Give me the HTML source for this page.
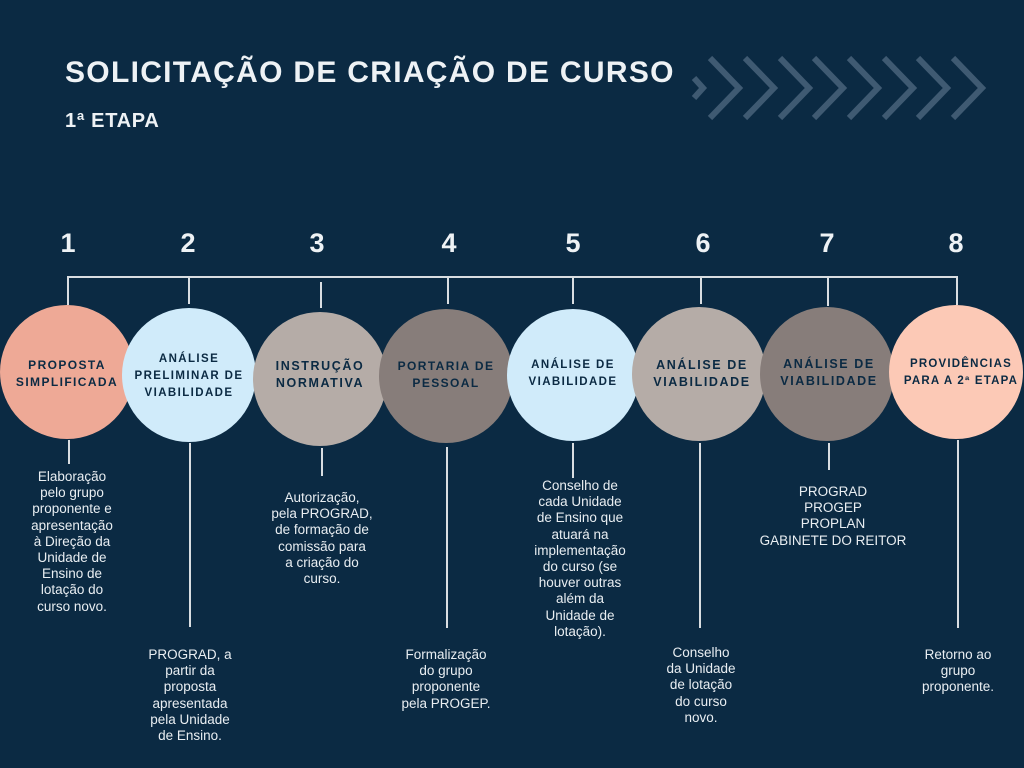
<!DOCTYPE html>
<html><head><meta charset="utf-8"><style>
body{margin:0;width:1024px;height:768px;background:#0b2a43;position:relative;overflow:hidden;font-family:"Liberation Sans",sans-serif;}
.t{position:absolute;color:#eef2f5;font-weight:bold;}
.n{position:absolute;color:#eef2f5;font-weight:bold;font-size:27px;width:40px;text-align:center;top:228px;}
.c{position:absolute;color:#0b2a43;font-weight:bold;font-size:11.5px;letter-spacing:1.4px;line-height:17px;text-align:center;width:140px;}
.d{position:absolute;color:#e9eef2;font-size:13.5px;line-height:16.2px;text-align:center;width:140px;}
</style></head><body>
<svg width="1024" height="768" style="position:absolute;left:0;top:0">
<g fill="none" stroke="#3f5a72" stroke-width="6">
<polyline points="694,78 703,88 694,98"/>
<polyline points="710,58 739,88 710,118"/>
<polyline points="745,58 774,88 745,118"/>
<polyline points="780,58 809,88 780,118"/>
<polyline points="814,58 843,88 814,118"/>
<polyline points="849,58 878,88 849,118"/>
<polyline points="884,58 913,88 884,118"/>
<polyline points="918,58 947,88 918,118"/>
<polyline points="953,58 982,88 953,118"/>
</g>
<g stroke="#d9dde1" stroke-width="2" fill="none">
<line x1="67" y1="277" x2="957" y2="277"/>
<line x1="68" y1="276" x2="68" y2="305"/>
<line x1="189" y1="277" x2="189" y2="304"/>
<line x1="321" y1="282" x2="321" y2="308"/>
<line x1="448" y1="277" x2="448" y2="304"/>
<line x1="573" y1="277" x2="573" y2="304"/>
<line x1="701" y1="277" x2="701" y2="304"/>
<line x1="828" y1="277" x2="828" y2="306"/>
<line x1="957" y1="276" x2="957" y2="305"/>
<line x1="69" y1="440" x2="69" y2="464"/>
<line x1="190" y1="443" x2="190" y2="627"/>
<line x1="322" y1="448" x2="322" y2="476"/>
<line x1="447" y1="447" x2="447" y2="628"/>
<line x1="573" y1="443" x2="573" y2="478"/>
<line x1="700" y1="443" x2="700" y2="628"/>
<line x1="829" y1="443" x2="829" y2="470"/>
<line x1="958" y1="440" x2="958" y2="628"/>
</g>
<circle cx="67" cy="372" r="67" fill="#eea996"/>
<circle cx="189" cy="375" r="67" fill="#d0ebfa"/>
<circle cx="320" cy="379" r="67" fill="#b5aca7"/>
<circle cx="446" cy="376" r="67" fill="#877d7a"/>
<circle cx="573" cy="375" r="66" fill="#d0ebfa"/>
<circle cx="699" cy="374" r="67" fill="#b5aca7"/>
<circle cx="827" cy="374" r="67" fill="#877d7a"/>
<circle cx="956" cy="372" r="67" fill="#fcc9b6"/>
</svg>
<div class="t" style="left:65px;top:56px;font-size:30px;letter-spacing:1.3px">SOLICITAÇÃO DE CRIAÇÃO DE CURSO</div>
<div class="t" style="left:65px;top:110px;font-size:20px;letter-spacing:0.7px">1ª ETAPA</div>
<div class="n" style="left:48px">1</div>
<div class="n" style="left:168px">2</div>
<div class="n" style="left:297px">3</div>
<div class="n" style="left:429px">4</div>
<div class="n" style="left:553px">5</div>
<div class="n" style="left:683px">6</div>
<div class="n" style="left:807px">7</div>
<div class="n" style="left:936px">8</div>
<div class="c" style="left:-3px;top:357px;font-size:12px">PROPOSTA<br>SIMPLIFICADA</div>
<div class="c" style="left:119px;top:351px">ANÁLISE<br>PRELIMINAR DE<br>VIABILIDADE</div>
<div class="c" style="left:250px;top:358px;font-size:12.5px;letter-spacing:1.6px">INSTRUÇÃO<br>NORMATIVA</div>
<div class="c" style="left:376px;top:358px;font-size:12px">PORTARIA DE<br>PESSOAL</div>
<div class="c" style="left:503px;top:357px;font-size:11.5px">ANÁLISE DE<br>VIABILIDADE</div>
<div class="c" style="left:632px;top:357px;font-size:12.5px;letter-spacing:1.6px">ANÁLISE DE<br>VIABILIDADE</div>
<div class="c" style="left:759px;top:356px;font-size:12.5px;letter-spacing:1.6px">ANÁLISE DE<br>VIABILIDADE</div>
<div class="c" style="left:891px;top:356px;font-size:11.5px;letter-spacing:1.2px">PROVIDÊNCIAS<br>PARA A 2ª ETAPA</div>
<div class="d" style="left:2px;top:469px">Elaboração<br>pelo grupo<br>proponente e<br>apresentação<br>à Direção da<br>Unidade de<br>Ensino de<br>lotação do<br>curso novo.</div>
<div class="d" style="left:120px;top:647px">PROGRAD, a<br>partir da<br>proposta<br>apresentada<br>pela Unidade<br>de Ensino.</div>
<div class="d" style="left:252px;top:490px">Autorização,<br>pela PROGRAD,<br>de formação de<br>comissão para<br>a criação do<br>curso.</div>
<div class="d" style="left:376px;top:647px">Formalização<br>do grupo<br>proponente<br>pela PROGEP.</div>
<div class="d" style="left:510px;top:478px">Conselho de<br>cada Unidade<br>de Ensino que<br>atuará na<br>implementação<br>do curso (se<br>houver outras<br>além da<br>Unidade de<br>lotação).</div>
<div class="d" style="left:631px;top:645px">Conselho<br>da Unidade<br>de lotação<br>do curso<br>novo.</div>
<div class="d" style="left:753px;top:484px;width:160px">PROGRAD<br>PROGEP<br>PROPLAN<br>GABINETE DO REITOR</div>
<div class="d" style="left:888px;top:647px">Retorno ao<br>grupo<br>proponente.</div>
</body></html>
